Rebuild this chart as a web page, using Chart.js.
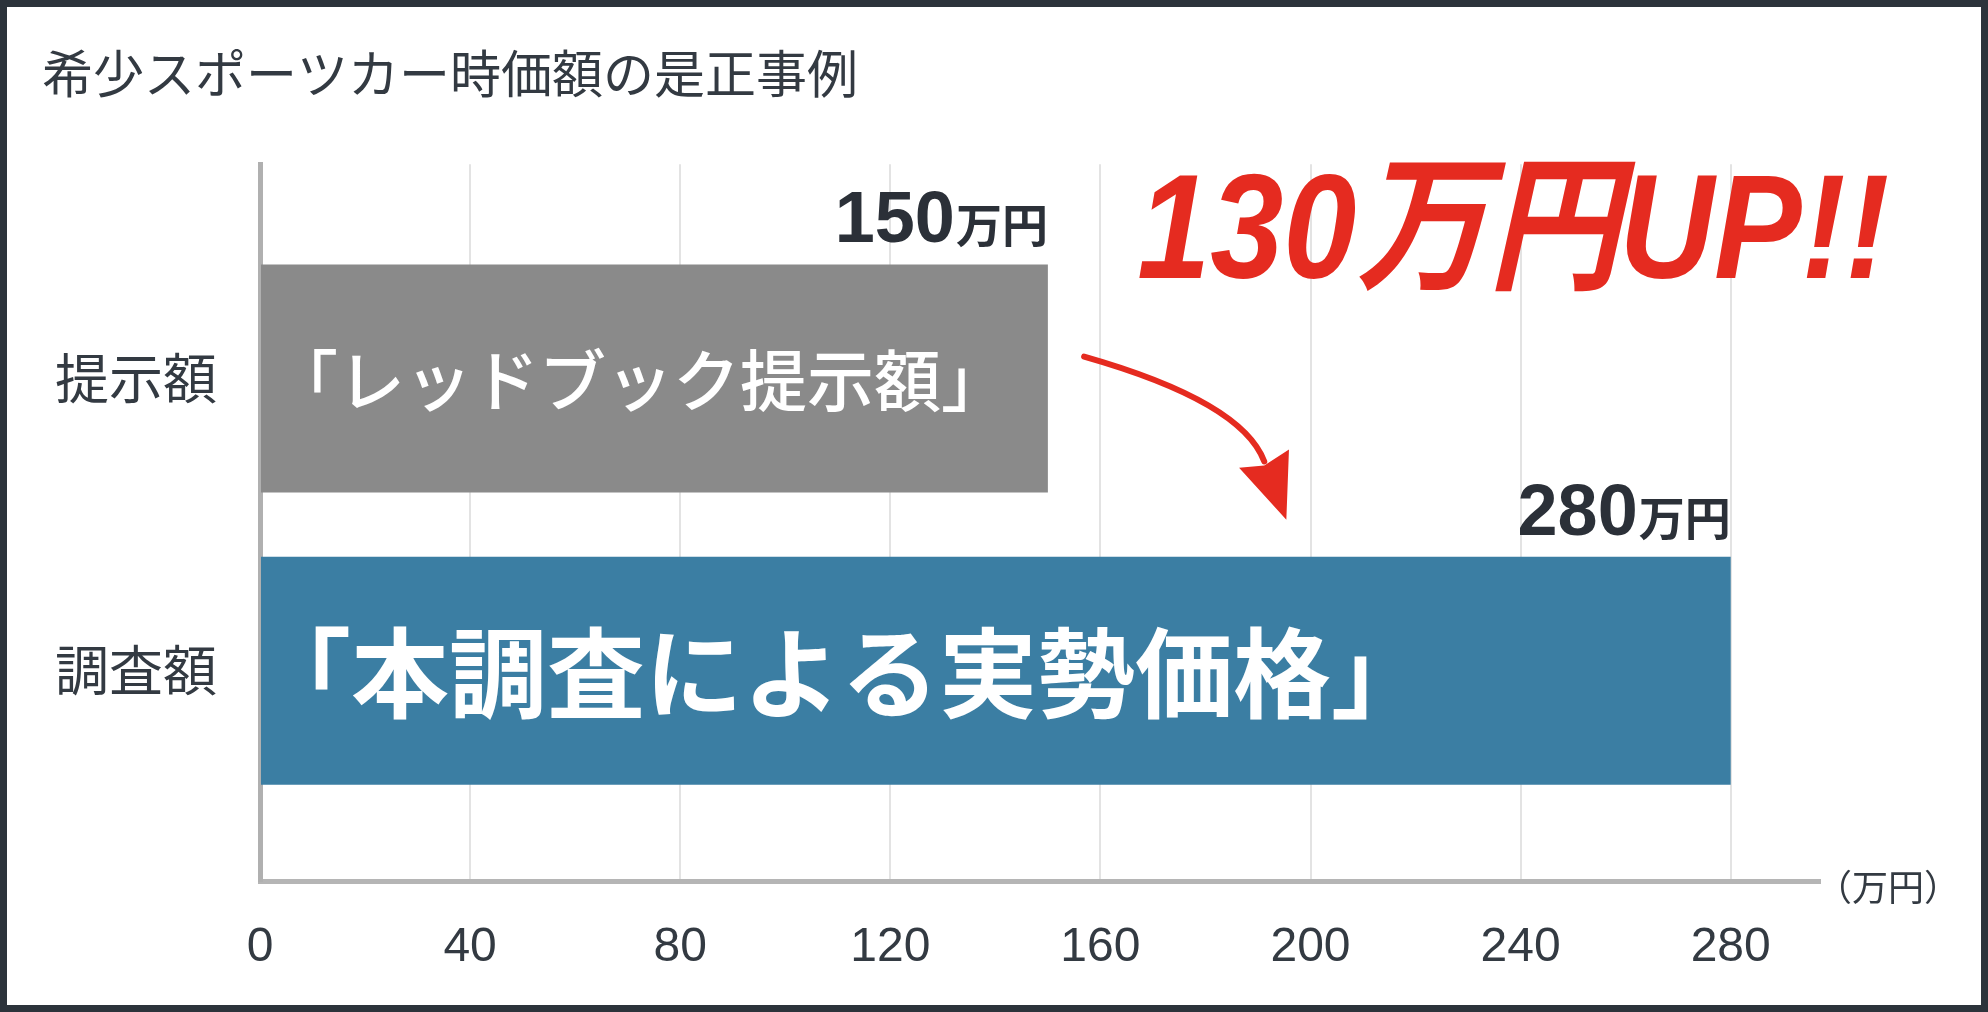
<!DOCTYPE html>
<html><head><meta charset="utf-8">
<script src="https://cdn.jsdelivr.net/npm/chart.js@4"></script>
<style>
html,body{margin:0;padding:0;background:#fff;}
#frame{position:relative;width:1988px;height:1012px;box-sizing:border-box;border:7px solid #2c333b;background:#fff;overflow:hidden;}
#wrap{position:absolute;left:0;top:0;width:1974px;height:998px;}
</style></head><body>
<div id="frame"><div id="wrap"><canvas id="c"></canvas></div></div>
<script>
const chartTitle = '希少スポーツカー時価額の是正事例';
const categories = ['提示額', '調査額'];
const values = [150, 280];
const innerLabels = ['「レッドブック提示額」', '「本調査による実勢価格」'];
const valueUnit = '万円';
const xTickValues = [0, 40, 80, 120, 160, 200, 240, 280];
const axisUnit = '（万円）';
const callout = '130万円UP!!';

const CJK = '"Noto Sans CJK JP", "Noto Sans CJK SC", sans-serif';
const LAT = '"Liberation Sans", Arial, "Noto Sans CJK JP", sans-serif';

const annot = {
  id: 'annot',
  afterDatasetsDraw(chart) {
    const {ctx, chartArea, scales: {x, y}} = chart;
    const meta = chart.getDatasetMeta(0);
    ctx.save();
    meta.data.forEach((bar, i) => {
      const top = bar.y - bar.height / 2;
      // value label
      ctx.textAlign = 'right';
      ctx.textBaseline = 'alphabetic';
      ctx.fillStyle = '#2b3038';
      ctx.font = 'bold 46px ' + CJK;
      ctx.fillText(valueUnit, bar.x, top - 22);
      const w = ctx.measureText(valueUnit).width;
      ctx.font = 'bold 72px ' + LAT;
      ctx.fillText(String(values[i]), bar.x - w - 1, top - 22);
      // inner label
      ctx.fillStyle = '#ffffff';
      ctx.textAlign = 'left';
      ctx.textBaseline = 'middle';
      ctx.font = i === 0 ? '500 67px ' + CJK : 'bold 98px ' + CJK;
      ctx.fillText(innerLabels[i], bar.base + (i === 0 ? 10 : -8), bar.y + 2);
    });
    // callout
    ctx.fillStyle = '#e52b20';
    ctx.textAlign = 'left';
    ctx.textBaseline = 'alphabetic';
    ctx.font = 'italic bold 148px ' + LAT;
    ctx.fillText(callout, x.getPixelForValue(167.0), y.getPixelForValue(0.656), 752);
    // arrow
    const P = (vx, vy) => [x.getPixelForValue(vx), y.getPixelForValue(vy)];
    const s = P(156.9, 0.925), c = P(187.0, 1.079), e = P(191.2, 1.284);
    const t = P(195.4, 1.483), bl = P(186.4, 1.305), br = P(195.9, 1.243);
    ctx.strokeStyle = '#e52b20';
    ctx.lineWidth = 6;
    ctx.lineCap = 'round';
    ctx.beginPath();
    ctx.moveTo(s[0], s[1]);
    ctx.quadraticCurveTo(c[0], c[1], e[0], e[1]);
    ctx.stroke();
    ctx.beginPath();
    ctx.moveTo(t[0], t[1]);
    ctx.lineTo(bl[0], bl[1]);
    ctx.lineTo(e[0], e[1] + 4);
    ctx.lineTo(br[0], br[1]);
    ctx.closePath();
    ctx.fillStyle = '#e52b20';
    ctx.fill();
    // axis unit
    ctx.fillStyle = '#333a42';
    ctx.textAlign = 'left';
    ctx.textBaseline = 'middle';
    ctx.font = '36px ' + CJK;
    ctx.fillText(axisUnit, chartArea.right - 4, chartArea.bottom + 6);
    ctx.restore();
  }
};

new Chart(document.getElementById('c'), {
  type: 'bar',
  data: {
    datasets: [{
      data: categories.map((c, i) => ({x: values[i], y: i + 1})),
      backgroundColor: ['#8a8a8a', '#3b7ea3'],
      borderWidth: 0,
      categoryPercentage: 1,
      barPercentage: 0.78
    }]
  },
  options: {
    indexAxis: 'y',
    responsive: true,
    maintainAspectRatio: false,
    animation: false,
    events: [],
    layout: {padding: {left: 35, right: 161, top: 0, bottom: 0}},
    plugins: {
      legend: {display: false},
      tooltip: {enabled: false},
      title: {
        display: true,
        text: chartTitle,
        align: 'start',
        color: '#333a42',
        font: {family: CJK, size: 51, weight: 'normal', lineHeight: 1.2},
        padding: {top: 36, bottom: 60}
      }
    },
    scales: {
      x: {
        type: 'linear',
        min: 0,
        max: 297,
        offset: false,
        afterBuildTicks: (sc) => { sc.ticks = xTickValues.map(v => ({value: v})); },
        afterFit: (sc) => { sc.height = 124; },
        ticks: {
          includeBounds: false,
          padding: 38,
          color: '#333a42',
          font: {family: LAT, size: 48},
          maxRotation: 0
        },
        grid: {color: '#e3e3e3', lineWidth: 2, drawTicks: false},
        border: {display: true, color: '#b5b5b5', width: 5}
      },
      y: {
        type: 'linear',
        reverse: true,
        min: 0.267,
        max: 2.719,
        offset: false,
        z: 1,
        afterBuildTicks: (sc) => { sc.ticks = categories.map((c, i) => ({value: i + 1})); },
        afterFit: (sc) => { sc.width = 218; },
        ticks: {
          padding: 43,
          color: '#333a42',
          font: {family: CJK, size: 54},
          callback: (v) => categories[v - 1]
        },
        grid: {display: false, drawTicks: false},
        border: {display: true, color: '#b0b0b0', width: 5}
      }
    }
  },
  plugins: [annot]
});
</script>
</body></html>
